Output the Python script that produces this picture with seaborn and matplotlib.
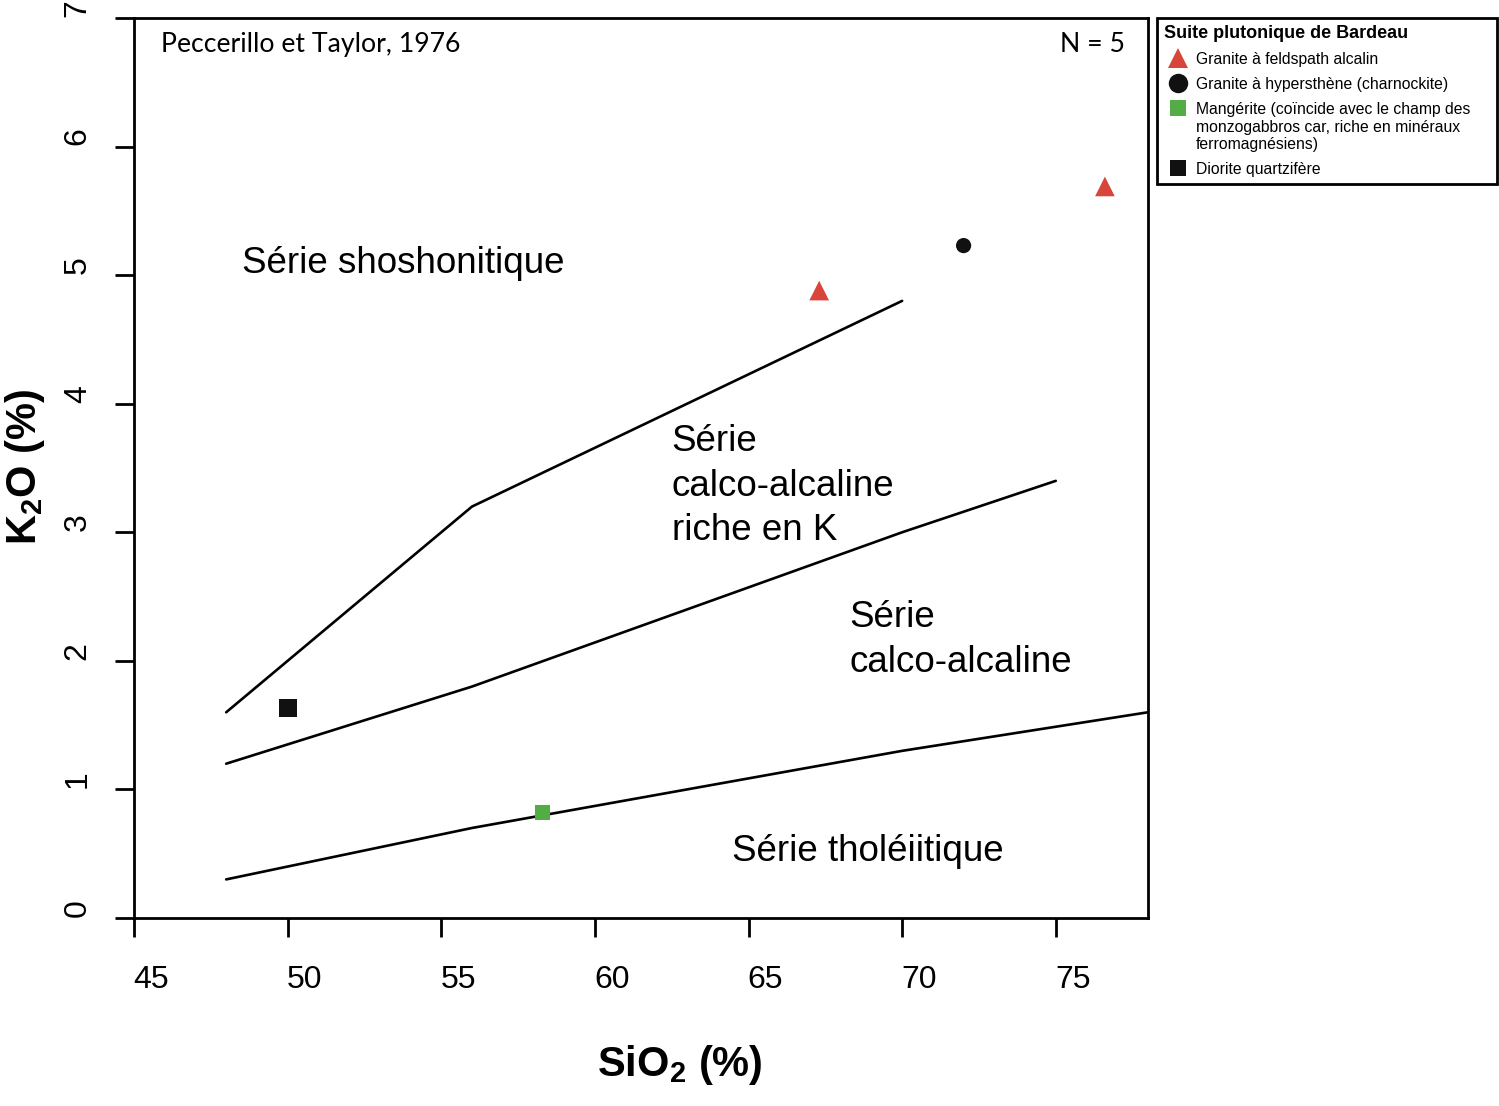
import pandas as pd
import matplotlib
matplotlib.use("Agg")
import matplotlib.pyplot as plt
import matplotlib.transforms as mtransforms
from matplotlib.lines import Line2D
import seaborn as sns

# Échantillons de la suite plutonique de Bardeau
groupes = ["Granite à feldspath alcalin", "Granite à feldspath alcalin",
           "Granite à hypersthène (charnockite)", "Mangérite", "Diorite quartzifère"]
sio2 = [67.3, 76.6, 72.0, 58.3, 50.0]
k2o = [4.88, 5.69, 5.23, 0.82, 1.63]

# Limites de Peccerillo et Taylor (1976)
lim_tho_x = [48, 52, 56, 63, 70, 78]
lim_tho_y = [0.3, 0.5, 0.7, 1.0, 1.3, 1.6]
lim_ca_x = [48, 52, 56, 63, 70, 75]
lim_ca_y = [1.2, 1.5, 1.8, 2.4, 3.0, 3.4]
lim_hk_x = [48, 52, 56, 63, 70]
lim_hk_y = [1.6, 2.4, 3.2, 4.0, 4.8]

x_ticks = [45, 50, 55, 60, 65, 70, 75]
y_ticks = [0, 1, 2, 3, 4, 5, 6, 7]

rouge = "#d8453b"
vert = "#52ae44"
noir = "#111111"
couleurs = {"Granite à feldspath alcalin": rouge,
            "Granite à hypersthène (charnockite)": noir,
            "Mangérite": vert,
            "Diorite quartzifère": noir}
marqueurs = {"Granite à feldspath alcalin": "^",
             "Granite à hypersthène (charnockite)": "o",
             "Mangérite": "s",
             "Diorite quartzifère": "s"}
tailles = {"Granite à feldspath alcalin": 200,
           "Granite à hypersthène (charnockite)": 120,
           "Mangérite": 110,
           "Diorite quartzifère": 165}

df = pd.DataFrame({"groupe": groupes, "SiO2": sio2, "K2O": k2o})

sns.set_style("ticks")
plt.rcParams["font.family"] = ["Liberation Sans", "DejaVu Sans"]
plt.rcParams["text.color"] = "black"
plt.rcParams["axes.labelcolor"] = "black"
plt.rcParams["xtick.color"] = "black"
plt.rcParams["ytick.color"] = "black"
plt.rcParams["mathtext.fontset"] = "custom"
plt.rcParams["mathtext.rm"] = "Liberation Sans"
plt.rcParams["mathtext.bf"] = "Liberation Sans:bold"

fig = plt.figure(figsize=(14.99, 11.06), dpi=100)
ax = fig.add_axes([0.0894, 0.170, 0.6764, 0.8137])

for lx, ly in [(lim_tho_x, lim_tho_y), (lim_ca_x, lim_ca_y), (lim_hk_x, lim_hk_y)]:
    sns.lineplot(x=lx, y=ly, ax=ax, color="black", linewidth=1.9, sort=False, estimator=None)

sns.scatterplot(data=df, x="SiO2", y="K2O", hue="groupe", style="groupe", size="groupe",
                palette=couleurs, markers=marqueurs, sizes=tailles, linewidth=0,
                legend=False, ax=ax, zorder=5)

ax.set_xlim(45, 78)
ax.set_ylim(0, 7)
ax.set_xticks(x_ticks)
ax.set_yticks(y_ticks)
ax.set_xticklabels([str(v) for v in x_ticks])
ax.set_yticklabels([str(v) for v in y_ticks])
for s in ax.spines.values():
    s.set_linewidth(2)
    s.set_color("black")
ax.tick_params(axis="both", direction="out", length=13.7, width=2, labelsize=23,
               color="black", labelcolor="black")
ax.tick_params(axis="x", pad=20)
ax.tick_params(axis="y", pad=16, labelrotation=90)
for lab in ax.get_yticklabels():
    lab.set_verticalalignment("center")

dx = mtransforms.ScaledTranslation(0.17, 0, fig.dpi_scale_trans)
for lab in ax.get_xticklabels():
    lab.set_transform(lab.get_transform() + dx)
dy = mtransforms.ScaledTranslation(0, 0.10, fig.dpi_scale_trans)
for lab in ax.get_yticklabels():
    lab.set_transform(lab.get_transform() + dy)

ax.set_xlabel("SiO$_{\\mathbf{2}}$ (%)", fontsize=30, fontweight="bold", va="center", color="black")
ax.set_ylabel("K$_{\\mathbf{2}}$O (%)", fontsize=30, fontweight="bold", va="center", color="black")
ax.xaxis.set_label_coords(0.538, -0.163)
ax.yaxis.set_label_coords(-0.1075, 0.501)

# Noms des champs
txt = dict(fontsize=26.5, color="black", va="baseline", ha="left")
ax.text(48.5, 5.02, "Série shoshonitique", **txt)
for i, ligne in enumerate(["Série", "calco-alcaline", "riche en K"]):
    ax.text(62.5, 3.63 - i * 0.345, ligne, **txt)
for i, ligne in enumerate(["Série", "calco-alcaline"]):
    ax.text(68.28, 2.26 - i * 0.345, ligne, **txt)
ax.text(64.45, 0.44, "Série tholéiitique", **txt)

ax.text(0.0266, 0.962, "Peccerillo et Taylor, 1976", transform=ax.transAxes,
        fontsize=19.2, family=["Lato", "DejaVu Sans"], va="baseline", ha="left", color="black")
ax.text(0.977, 0.962, "N = 5", transform=ax.transAxes,
        fontsize=19.2, family=["Lato", "DejaVu Sans"], va="baseline", ha="right", color="black")

# Légende
poignees = [
    Line2D([], [], marker="^", color=rouge, linestyle="none", markersize=15, markeredgewidth=0),
    Line2D([], [], marker="o", color=noir, linestyle="none", markersize=14, markeredgewidth=0),
    Line2D([], [], marker="s", color=vert, linestyle="none", markersize=11.5, markeredgewidth=0),
    Line2D([], [], marker="s", color=noir, linestyle="none", markersize=11.5, markeredgewidth=0),
]
etiquettes = ["Granite à feldspath alcalin",
              "Granite à hypersthène (charnockite)",
              "Mangérite (coïncide avec le champ des\nmonzogabbros car, riche en minéraux\nferromagnésiens)",
              "Diorite quartzifère"]
leg = ax.legend(poignees, etiquettes, title="Suite plutonique de Bardeau",
                loc="upper left", bbox_to_anchor=(1157 / 1499, 1 - 181 / 1106, 340 / 1499, 163 / 1106),
                bbox_transform=fig.transFigure, mode="expand", borderaxespad=0,
                fontsize=11.3, title_fontproperties={"weight": "bold", "size": 13},
                alignment="left", frameon=True, fancybox=False, edgecolor="black",
                framealpha=1, handlelength=1.75, handletextpad=0.3, labelspacing=0.64,
                borderpad=0.45)
leg.get_frame().set_linewidth(2)
leg.get_title().set_color("black")
for t in leg.get_texts():
    t.set_color("black")
for col in leg._legend_handle_box.get_children():
    for row in col.get_children():
        row.align = "top"

fig.savefig("out.png", dpi=100)
